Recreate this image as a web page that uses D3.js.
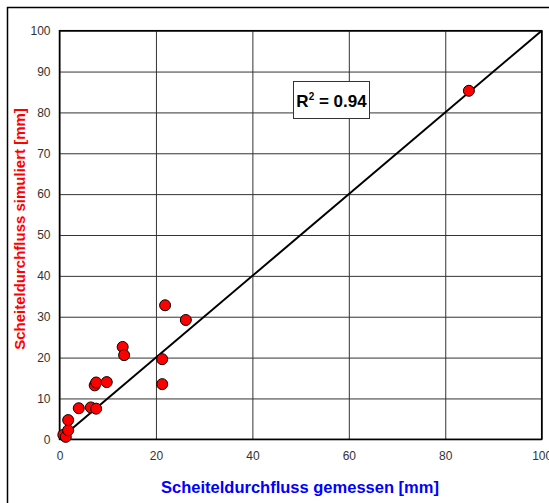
<!DOCTYPE html>
<html>
<head>
<meta charset="utf-8">
<script src="https://cdn.jsdelivr.net/npm/d3@7"></script>
<style>
  body { margin: 0; background: #fff; }
  text { font-family: "Liberation Sans", Arial, sans-serif; }
</style>
</head>
<body>
<div id="chart"></div>
<script>
// Data
const measured = [0.8, 1.3, 1.8, 1.8, 4.0, 6.5, 7.6, 7.3, 7.6, 9.8, 13.1, 13.4, 21.3, 21.3, 21.9, 26.2, 84.9]
const simulated = [1.1, 0.6, 2.2, 4.7, 7.6, 7.8, 7.5, 13.2, 13.9, 14.0, 22.6, 20.6, 19.6, 13.5, 32.8, 29.2, 85.3]
const lineX = [0, 100]
const lineY = [0, 100]
const xTicks = [0, 20, 40, 60, 80, 100]
const yTicks = [0, 10, 20, 30, 40, 50, 60, 70, 80, 90, 100]
const xTitle = 'Scheiteldurchfluss gemessen [mm]'
const yTitle = 'Scheiteldurchfluss simuliert [mm]'
const r2Label = '0.94'

// Dimensions
let dimensions = {
  width: 549,
  height: 503,
  margins: { top: 30.7, right: 7.3, bottom: 63.7, left: 59.5 },
}
dimensions.ctrWidth = dimensions.width - dimensions.margins.left - dimensions.margins.right
dimensions.ctrHeight = dimensions.height - dimensions.margins.top - dimensions.margins.bottom

const svg = d3.select('#chart')
  .append('svg')
  .attr('width', dimensions.width)
  .attr('height', dimensions.height)

// outer frame (runs off the right and bottom edge)
svg.append('rect')
  .attr('x', 7.5)
  .attr('y', 7.5)
  .attr('width', 700)
  .attr('height', 700)
  .attr('fill', 'none')
  .attr('stroke', 'black')
  .attr('stroke-width', 1.5)

const ctr = svg.append('g')
  .attr('transform', `translate(${dimensions.margins.left}, ${dimensions.margins.top})`)

// Scales
const xScale = d3.scaleLinear()
  .domain([0, 100])
  .range([0, dimensions.ctrWidth])

const yScale = d3.scaleLinear()
  .domain([0, 100])
  .range([dimensions.ctrHeight, 0])

// Grid + axes
const yAxis = d3.axisLeft(yScale)
  .tickValues(yTicks)
  .tickSize(-dimensions.ctrWidth)
  .tickPadding(9)

const yAxisGroup = ctr.append('g').call(yAxis)

const xAxis = d3.axisBottom(xScale)
  .tickValues(xTicks)
  .tickSize(-dimensions.ctrHeight)
  .tickPadding(12)

const xAxisGroup = ctr.append('g')
  .attr('transform', `translate(0, ${dimensions.ctrHeight})`)
  .call(xAxis)

ctr.selectAll('.domain').remove()
ctr.selectAll('.tick line')
  .attr('stroke', '#333')
  .attr('stroke-width', 1)
ctr.selectAll('.tick text')
  .attr('fill', '#333')
  .style('font-size', '12px')
  .style('font-family', '"Liberation Sans", Arial, sans-serif')

// plot border
ctr.append('rect')
  .attr('width', dimensions.ctrWidth)
  .attr('height', dimensions.ctrHeight)
  .attr('fill', 'none')
  .attr('stroke', 'black')
  .attr('stroke-width', 1.5)

// 1:1 line
const lineGenerator = d3.line()
  .x(d => xScale(d[0]))
  .y(d => yScale(d[1]))

ctr.append('path')
  .datum(d3.zip(lineX, lineY))
  .attr('d', lineGenerator)
  .attr('fill', 'none')
  .attr('stroke', 'black')
  .attr('stroke-width', 2)

// points
ctr.selectAll('circle')
  .data(d3.zip(measured, simulated))
  .join('circle')
  .attr('cx', d => xScale(d[0]))
  .attr('cy', d => yScale(d[1]))
  .attr('r', 5.5)
  .attr('fill', '#ff0000')
  .attr('stroke', 'black')
  .attr('stroke-width', 1)

// R² box
const box = ctr.append('g')
  .attr('transform', `translate(${293.5 - dimensions.margins.left}, ${81.5 - dimensions.margins.top})`)

box.append('rect')
  .attr('width', 76)
  .attr('height', 37)
  .attr('fill', 'white')
  .attr('stroke', '#333')
  .attr('stroke-width', 1)

const r2 = box.append('text')
  .attr('x', 38)
  .attr('y', 25)
  .attr('text-anchor', 'middle')
  .style('font-size', '17px')
  .style('font-weight', 'bold')
  .attr('fill', 'black')

r2.append('tspan').text('R')
r2.append('tspan').attr('dy', -7).style('font-size', '10px').text('2')
r2.append('tspan').attr('dy', 7).text(` = ${r2Label}`)

// Titles
svg.append('text')
  .attr('x', 300)
  .attr('y', 493)
  .attr('text-anchor', 'middle')
  .attr('fill', '#0000ff')
  .style('font-size', '16.5px')
  .style('font-weight', 'bold')
  .text(xTitle)

svg.append('text')
  .attr('transform', 'translate(25, 229) rotate(-90)')
  .attr('text-anchor', 'middle')
  .attr('fill', '#ff0000')
  .style('font-size', '15px')
  .style('font-weight', 'bold')
  .text(yTitle)
</script>
</body>
</html>
